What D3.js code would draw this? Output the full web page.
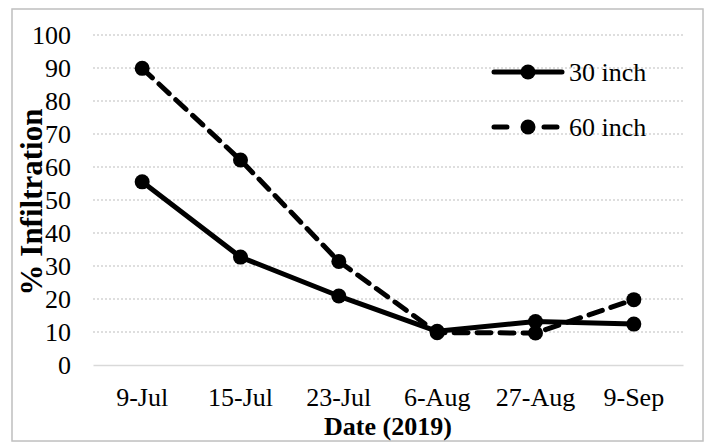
<!DOCTYPE html>
<html>
<head>
<meta charset="utf-8">
<script src="https://d3js.org/d3.v7.min.js"></script>
<style>
  body { margin: 0; background: #fff; }
</style>
</head>
<body>
<script>
// data
let dates = ["9-Jul", "15-Jul", "23-Jul", "6-Aug", "27-Aug", "9-Sep"];
let inch30 = [55.5, 32.7, 20.9, 10.2, 13.2, 12.4];
let inch60 = [89.9, 62.1, 31.4, 9.8, 9.7, 19.8];
let yTicks = [0, 10, 20, 30, 40, 50, 60, 70, 80, 90, 100];

let series = [
  { name: "30 inch", values: inch30, dash: null },
  { name: "60 inch", values: inch60, dash: "14,9" }
];

let width = 704, height = 443;
let margin = { left: 93, right: 21, top: 35, bottom: 78 };
let serif = "'Liberation Serif'";

let svg = d3.select("body").append("svg")
  .attr("width", width)
  .attr("height", height);

// chart area border
svg.append("rect")
  .attr("x", 12).attr("y", 9)
  .attr("width", 691).attr("height", 432)
  .attr("fill", "none")
  .attr("stroke", "#bfbfbf")
  .attr("stroke-width", 1.5);

let x = d3.scaleBand()
  .domain(dates)
  .range([margin.left, width - margin.right]);

let y = d3.scaleLinear()
  .domain([0, 100])
  .range([height - margin.bottom, margin.top]);

// gridlines
svg.append("g")
  .selectAll("line")
  .data(yTicks.filter(d => d > 0))
  .enter()
  .append("line")
    .attr("x1", margin.left)
    .attr("x2", width - margin.right)
    .attr("y1", d => y(d))
    .attr("y2", d => y(d))
    .attr("stroke", "#d4d4d4")
    .attr("stroke-width", 1.5)
    .attr("stroke-dasharray", "2,2");

// y axis (labels only)
let yAxis = svg.append("g")
  .attr("transform", "translate(" + margin.left + ",0)")
  .call(d3.axisLeft(y).tickValues(yTicks).tickSize(0).tickPadding(22));
yAxis.select(".domain").remove();
yAxis.selectAll("text")
  .style("font-family", serif)
  .style("font-size", "26px")
  .attr("fill", "#000");

// x axis
let xAxis = svg.append("g")
  .attr("transform", "translate(0," + y(0) + ")")
  .call(d3.axisBottom(x).tickSize(0).tickPadding(23));
xAxis.select(".domain")
  .attr("stroke", "#d9d9d9")
  .attr("stroke-width", 1.5);
xAxis.selectAll("text")
  .style("font-family", serif)
  .style("font-size", "26px")
  .attr("fill", "#000");

// axis titles
svg.append("text")
  .text("Date (2019)")
  .attr("x", (margin.left + width - margin.right) / 2)
  .attr("y", 435)
  .attr("text-anchor", "middle")
  .style("font-family", serif)
  .style("font-size", "26px")
  .style("font-weight", "bold");

svg.append("text")
  .text("% Infiltration")
  .attr("transform", "translate(42," + (y(50) + 2) + ") rotate(-90)")
  .attr("text-anchor", "middle")
  .style("font-family", serif)
  .style("font-size", "31px")
  .style("font-weight", "bold");

// lines + markers
let line = d3.line()
  .x((d, i) => x(dates[i]) + x.bandwidth() / 2)
  .y(d => y(d));

series.forEach(s => {
  svg.append("path")
    .datum(s.values)
    .attr("d", line)
    .attr("fill", "none")
    .attr("stroke", "#000")
    .attr("stroke-width", 5)
    .attr("stroke-linejoin", "round")
    .attr("stroke-linecap", "round")
    .attr("stroke-dasharray", s.dash);

  svg.append("g")
    .selectAll("circle")
    .data(s.values)
    .enter()
    .append("circle")
      .attr("cx", (d, i) => x(dates[i]) + x.bandwidth() / 2)
      .attr("cy", d => y(d))
      .attr("r", 7.5)
      .attr("fill", "#000");
});

// legend
let legend = svg.append("g")
  .selectAll("g")
  .data(series)
  .enter()
  .append("g")
    .attr("transform", (d, i) => "translate(494," + (72 + i * 55) + ")");

legend.append("line")
  .attr("x1", 0)
  .attr("x2", d => d.dash ? 63 : 68)
  .attr("y1", 0).attr("y2", 0)
  .attr("stroke", "#000")
  .attr("stroke-width", 5)
  .attr("stroke-linecap", "round")
  .attr("stroke-dasharray", d => d.dash ? "13,37,13" : null);

legend.append("circle")
  .attr("cx", 34).attr("cy", 0)
  .attr("r", 7.5)
  .attr("fill", "#000");

legend.append("text")
  .text(d => d.name)
  .attr("x", 75)
  .attr("y", 0)
  .attr("dy", "0.33em")
  .style("font-family", serif)
  .style("font-size", "26px");
</script>
</body>
</html>
